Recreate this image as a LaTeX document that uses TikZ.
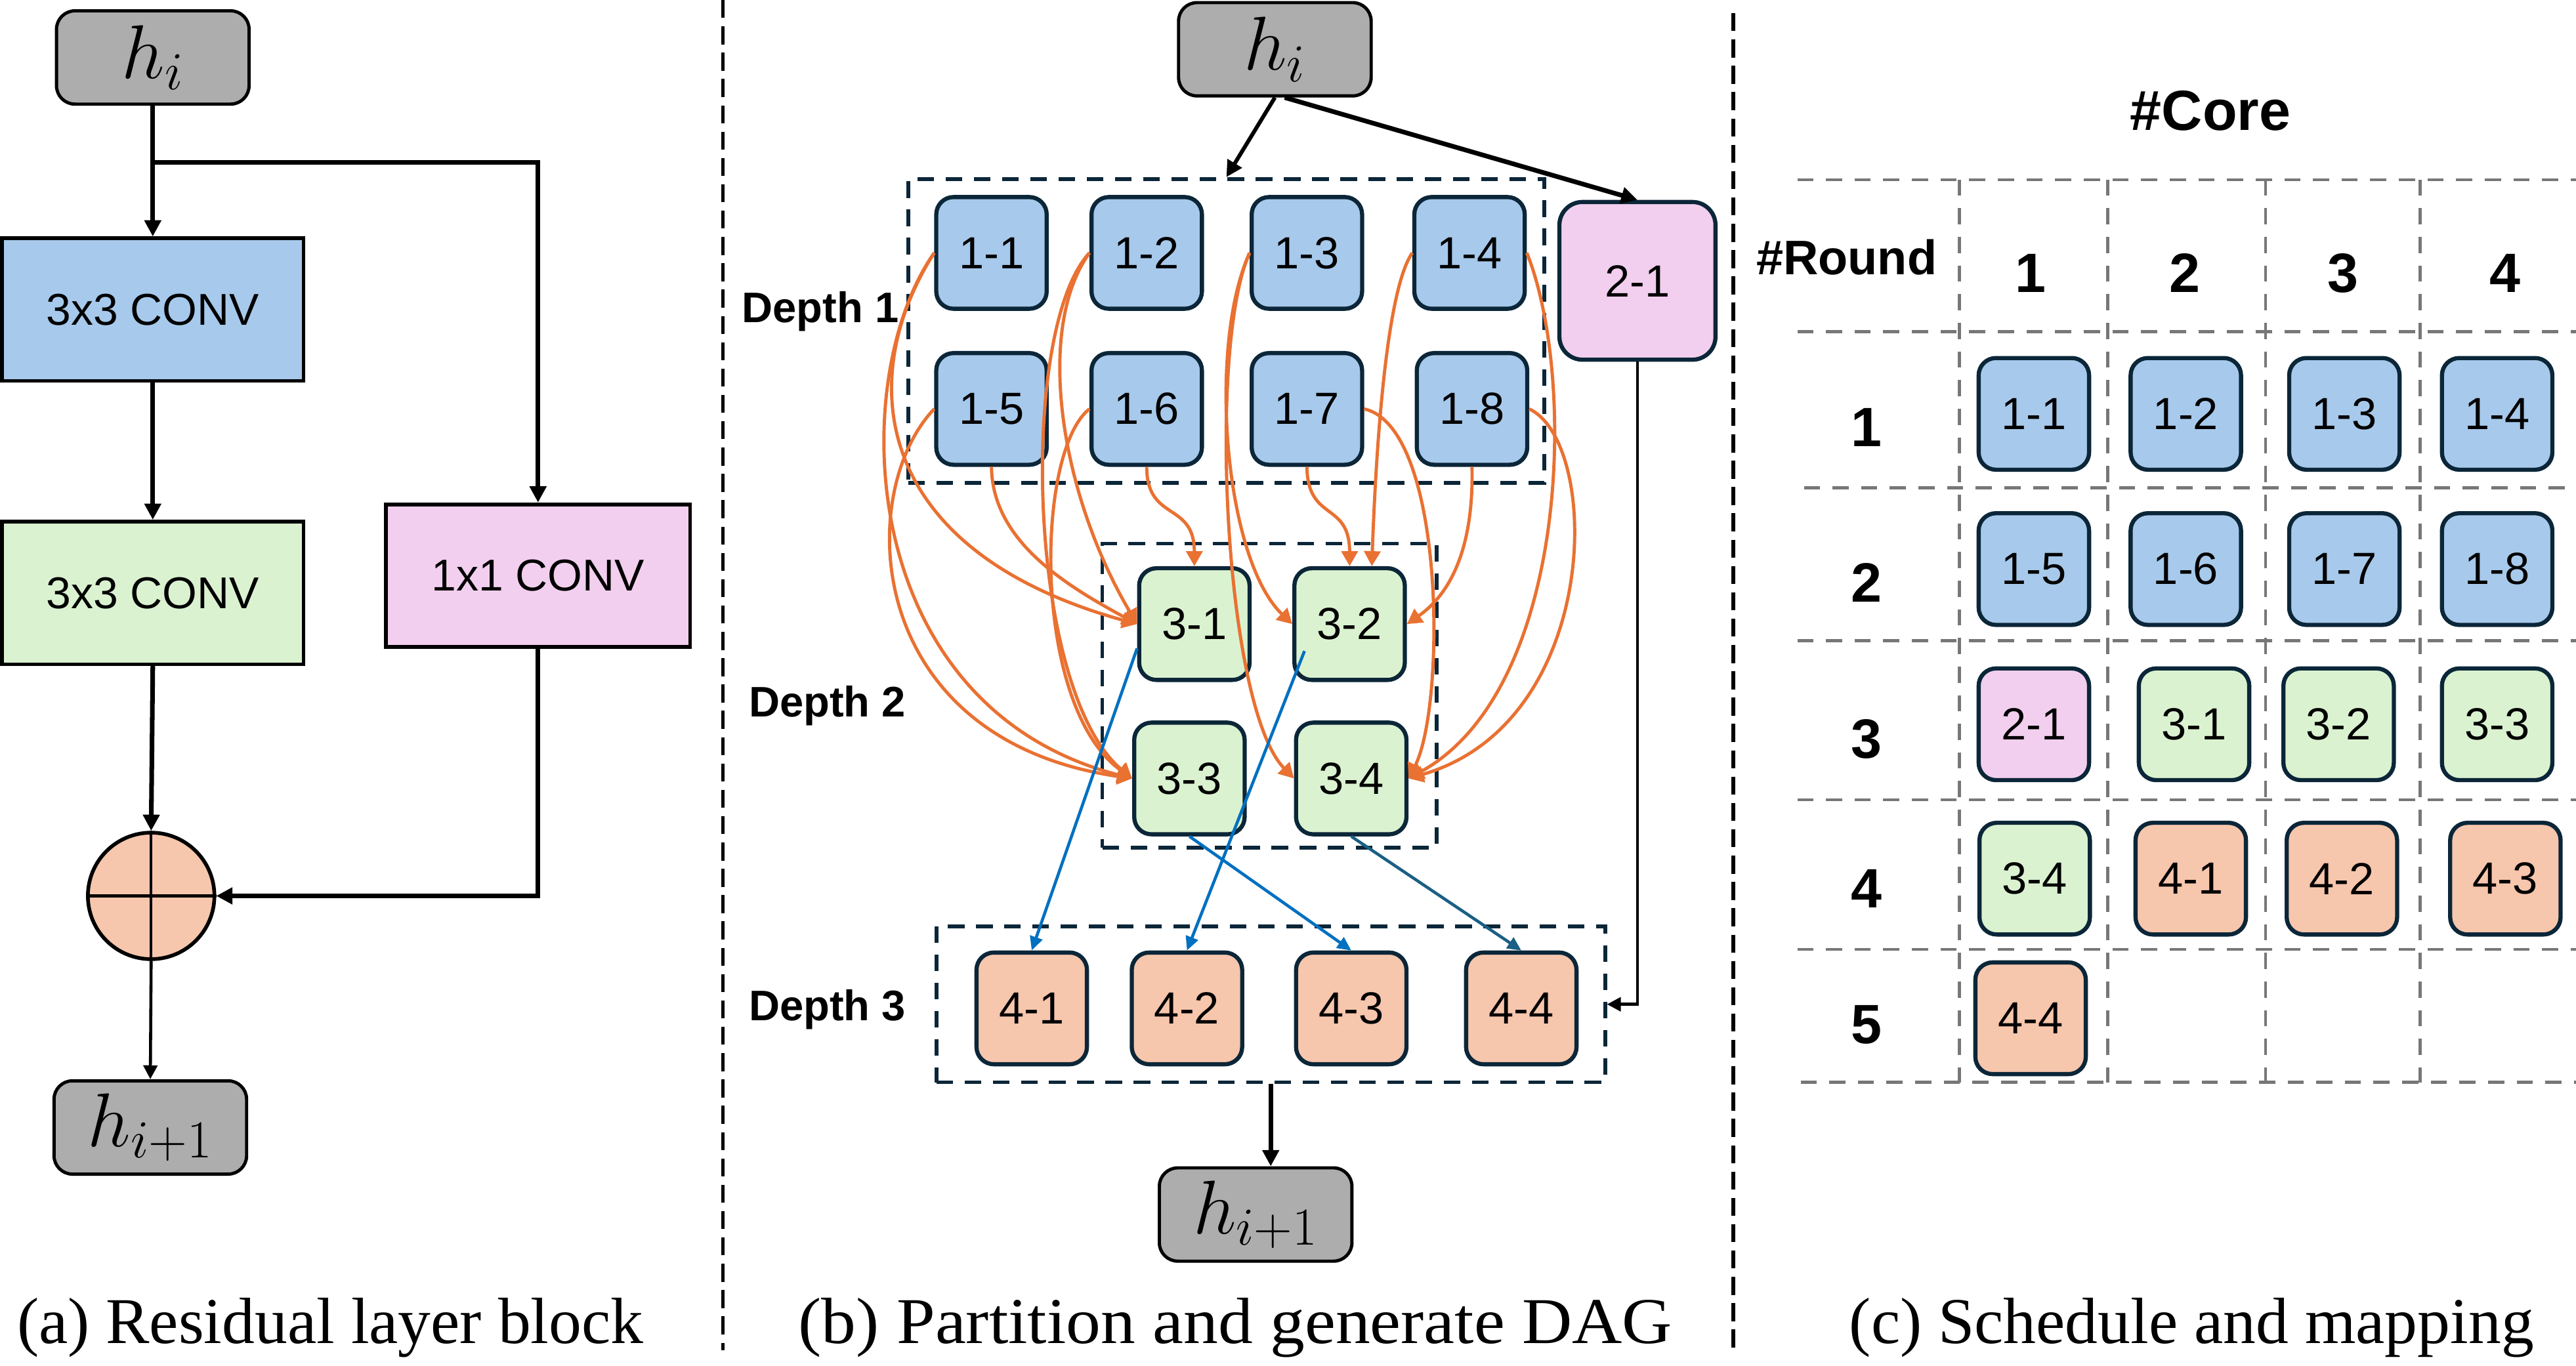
\RequirePackage{fix-cm}
\documentclass[tikz,border=0pt]{standalone}
\usepackage{fontspec}
\setmainfont{Liberation Serif}
\newfontfamily\arial{Liberation Sans}
\usetikzlibrary{arrows.meta}

\definecolor{cgray}{HTML}{ADADAD}
\definecolor{cblue}{HTML}{A7C9EB}
\definecolor{cgreen}{HTML}{DAF2D0}
\definecolor{cpink}{HTML}{F2CFEE}
\definecolor{cpeach}{HTML}{F6C6AD}
\definecolor{cnavy}{HTML}{0B2638}
\definecolor{corange}{HTML}{E97132}
\definecolor{cbluearr}{HTML}{0070C0}
\definecolor{cteal}{HTML}{1A5F84}
\definecolor{cgrid}{HTML}{777777}

\begin{document}
\begin{tikzpicture}[x=0.025cm, y=-0.025cm,
  hstate/.style={draw=black, line width=1.4pt, fill=cgray, rounded corners=8pt,
    minimum width=2.93cm, minimum height=1.42cm, inner sep=0pt,
    font=\fontsize{33}{36}\selectfont},
  convbox/.style={draw=black, line width=1.6pt, minimum height=2.17cm,
    minimum width=4.585cm, inner sep=0pt, font=\arial\fontsize{19.3}{22}\selectfont},
  task/.style={draw=cnavy, line width=1.8pt, rounded corners=7.5pt,
    minimum width=1.68cm, minimum height=1.7cm, inner sep=0pt,
    font=\arial\fontsize{19.5}{22}\selectfont},
  tblue/.style={task, fill=cblue},
  tgreen/.style={task, fill=cgreen},
  tpink/.style={task, fill=cpink},
  tpeach/.style={task, fill=cpeach},
  depthbox/.style={draw=cnavy, line width=1.6pt, dash pattern=on 7.2pt off 5pt, inner sep=0pt},
  depthlabel/.style={anchor=base west, font=\arial\bfseries\fontsize{18.5}{21}\selectfont},
  blk/.style={draw=black, line width=2pt, -{Triangle[length=7pt,width=7pt]}},
  blkmid/.style={draw=black, line width=1.7pt, -{Triangle[length=7pt,width=7pt]}},
  blkthin/.style={draw=black, line width=1.3pt, -{Triangle[length=6pt,width=6pt]}},
  deparr/.style={draw=corange, line width=1.4pt, -{Triangle[length=6.5pt,width=7pt]}},
  outarr/.style={draw=cbluearr, line width=1.3pt, -{Triangle[length=6pt,width=5.5pt]}},
  gridline/.style={draw=cgrid, line width=1.3pt, dash pattern=on 7pt off 5.4pt},
  sepline/.style={draw=black, line width=1.5pt, dash pattern=on 7.8pt off 3.6pt},
  capt/.style={anchor=base, font=\fontsize{28.3}{32}\selectfont},
  hdr/.style={anchor=base, font=\arial\bfseries\fontsize{24}{27}\selectfont}
]
\useasboundingbox (0,0) rectangle (1568,831.7);

% ---------------- (a) residual layer block ----------------
\node[hstate] (a-in) at (93,35) {$h_i$};
\node[convbox, fill=cblue] (a-c1) at (93,188.5) {3x3 CONV};
\node[convbox, fill=cgreen] (a-c2) at (93,361) {3x3 CONV};
\node[convbox, fill=cpink, minimum width=4.625cm] (a-c3) at (327.5,350.5) {1x1 CONV};
\node[circle, draw=black, fill=cpeach, line width=1.6pt, minimum size=1.925cm, inner sep=0pt] (a-add) at (92,545.5) {};
\draw[line width=1.2pt] (a-add.west) -- (a-add.east) (a-add.north) -- (a-add.south);
\node[hstate] (a-out) at (91.5,686.5) {$h_{i+1}$};
\coordinate (a-split) at (93,99);

\draw[blk] (a-in.south) -- (a-in.south |- a-c1.north);
\draw[blk] (a-split) -| (a-c3.north);
\draw[blk] (a-c1) -- (a-c2);
\draw[blk] (a-c2.south) -- (a-add.north);
\draw[blk] (a-c3.south) |- (a-add.east);
\draw[blkthin] (a-add.south) -- (a-out.north);

\node[capt] (a-cap) at (201,818) {(a) Residual layer block};

% ---------------- separators ----------------
\draw[sepline] (440,0) -- (440,822);
\draw[sepline] (1055,8) -- (1055,822);

% ---------------- (b) partition and DAG ----------------
\node[hstate] (b-in) at (776,30) {$h_i$};
\node[depthbox, minimum width=9.675cm, minimum height=4.625cm] (d1) at (746.5,201.5) {};
\node[depthbox, minimum width=5.0875cm, minimum height=4.625cm] (d2) at (772.75,423.5) {};
\node[depthbox, minimum width=10.175cm, minimum height=2.375cm] (d3) at (773.5,611.5) {};
\node[hstate] (b-out) at (764.3,739.5) {$h_{i+1}$};

\node[depthlabel] (lab1) at (446.7,196.3) {Depth 1};
\node[depthlabel] (lab2) at (450.9,436.3) {Depth 2};
\node[depthlabel] (lab3) at (450.9,621.6) {Depth 3};

\node[tblue] (t11) at (603.5,154) {1-1};
\node[tblue] (t12) at (698,154) {1-2};
\node[tblue] (t13) at (795.5,154) {1-3};
\node[tblue] (t14) at (894.5,154) {1-4};
\node[tblue] (t15) at (603.5,249) {1-5};
\node[tblue] (t16) at (698,249) {1-6};
\node[tblue] (t17) at (795.5,249) {1-7};
\node[tblue] (t18) at (896,249) {1-8};
\node[tpink, minimum width=2.375cm, minimum height=2.4cm, rounded corners=10pt] (t21) at (996.7,171) {2-1};
\node[tgreen] (t31) at (727,380) {3-1};
\node[tgreen] (t32) at (821.5,380) {3-2};
\node[tgreen] (t33) at (724,474) {3-3};
\node[tgreen] (t34) at (822.5,474) {3-4};
\node[tpeach] (t41) at (628,614) {4-1};
\node[tpeach] (t42) at (722.5,614) {4-2};
\node[tpeach] (t43) at (822.5,614) {4-3};
\node[tpeach] (t44) at (926,614) {4-4};

\draw[blkmid] (b-in.south) -- (d1.north);
\draw[blk] ([xshift=0.15cm]b-in.south) -- (t21.north);
\draw[blkthin] (t21.south) |- (d3.east);
\draw[blk] (d3.south) -- (d3.south |- b-out.north);

% depth 1 -> depth 2 dependencies
\draw[deparr] (t11.west) .. controls (520,230) and (530,335) .. (t31.west);
\draw[deparr] (t11.west) .. controls (515,230) and (520,430) .. (t33.west);
\draw[deparr] (t15.west) .. controls (520,300) and (525,450) .. (t33.west);
\draw[deparr] (t15.south) .. controls (604,330) and (650,357) .. (t31.west);
\draw[deparr] (t12.west) .. controls (630,200) and (645,300) .. (t31.west);
\draw[deparr] (t12.west) .. controls (620,200) and (625,420) .. (t33.west);
\draw[deparr] (t16.west) .. controls (630,275) and (628,430) .. (t33.west);
\draw[deparr] (t16.south) .. controls (698,318) and (727,305) .. (t31.north);
\draw[deparr] (t17.south) .. controls (796,318) and (821.5,305) .. (t32.north);
\draw[deparr] (t14.west) .. controls (845,175) and (838,260) .. ([xshift=0.3375cm]t32.north);
\draw[deparr] (t13.west) .. controls (735,210) and (745,340) .. (t32.west);
\draw[deparr] (t13.west) .. controls (735,210) and (745,430) .. (t34.west);
\draw[deparr] (t18.south) .. controls (897,330) and (885,360) .. (t32.east);
\draw[deparr] (t17.east) .. controls (880,260) and (880,430) .. (t34.east);
\draw[deparr] (t14.east) .. controls (960,230) and (955,420) .. (t34.east);
\draw[deparr] (t18.east) .. controls (975,270) and (975,440) .. (t34.east);

% depth 2 -> depth 3 dependencies
\draw[outarr] ([yshift=-0.37cm]t31.west) -- (t41.north);
\draw[outarr] ([xshift=0.185cm,yshift=-0.41cm]t32.west) -- (t42.north);
\draw[outarr] (t33.south) -- (t43.north);
\draw[outarr, draw=cteal] (t34.south) -- (t44.north);

\node[capt] (b-cap) at (752,818) {\scalebox{1.06}[1]{(b) Partition and generate DAG}};

% ---------------- (c) schedule and mapping ----------------
\foreach \yy/\xs in {109.4/1094, 202/1094, 297/1098, 390/1094, 487/1094, 578/1094, 659/1096}
  \draw[gridline] (\xs,\yy) -- (1568,\yy);
\foreach \xx in {1192.6, 1283, 1379, 1473}
  \draw[gridline] (\xx,109.4) -- (\xx,659);

\node[anchor=base, font=\arial\bfseries\fontsize{24.5}{28}\selectfont] (core) at (1345.5,79.3) {\#Core};
\node[anchor=base, font=\arial\bfseries\fontsize{21}{24}\selectfont] (round) at (1124,167) {\#Round};
\node[hdr] (col1) at (1236,178) {1};
\node[hdr] (col2) at (1330,178) {2};
\node[hdr] (col3) at (1426,178) {3};
\node[hdr] (col4) at (1525,178) {4};
\node[hdr] (row1) at (1136,272) {1};
\node[hdr] (row2) at (1136,366.7) {2};
\node[hdr] (row3) at (1136,461.6) {3};
\node[hdr] (row4) at (1136,552.6) {4};
\node[hdr] (row5) at (1136,635.2) {5};

\node[tblue] (s11) at (1238,252) {1-1};
\node[tblue] (s12) at (1330.5,252) {1-2};
\node[tblue] (s13) at (1427,252) {1-3};
\node[tblue] (s14) at (1520,252) {1-4};
\node[tblue] (s21) at (1238,346.5) {1-5};
\node[tblue] (s22) at (1330.5,346.5) {1-6};
\node[tblue] (s23) at (1427,346.5) {1-7};
\node[tblue] (s24) at (1520,346.5) {1-8};
\node[tpink] (s31) at (1238,441) {2-1};
\node[tgreen] (s32) at (1335.5,441) {3-1};
\node[tgreen] (s33) at (1423.5,441) {3-2};
\node[tgreen] (s34) at (1520,441) {3-3};
\node[tgreen] (s41) at (1238.5,535) {3-4};
\node[tpeach] (s42) at (1333.5,535) {4-1};
\node[tpeach] (s43) at (1425.5,535) {4-2};
\node[tpeach] (s44) at (1525,535) {4-3};
\node[tpeach] (s51) at (1236,620) {4-4};

\node[capt] (c-cap) at (1334,818) {(c) Schedule and mapping};
\end{tikzpicture}
\end{document}
